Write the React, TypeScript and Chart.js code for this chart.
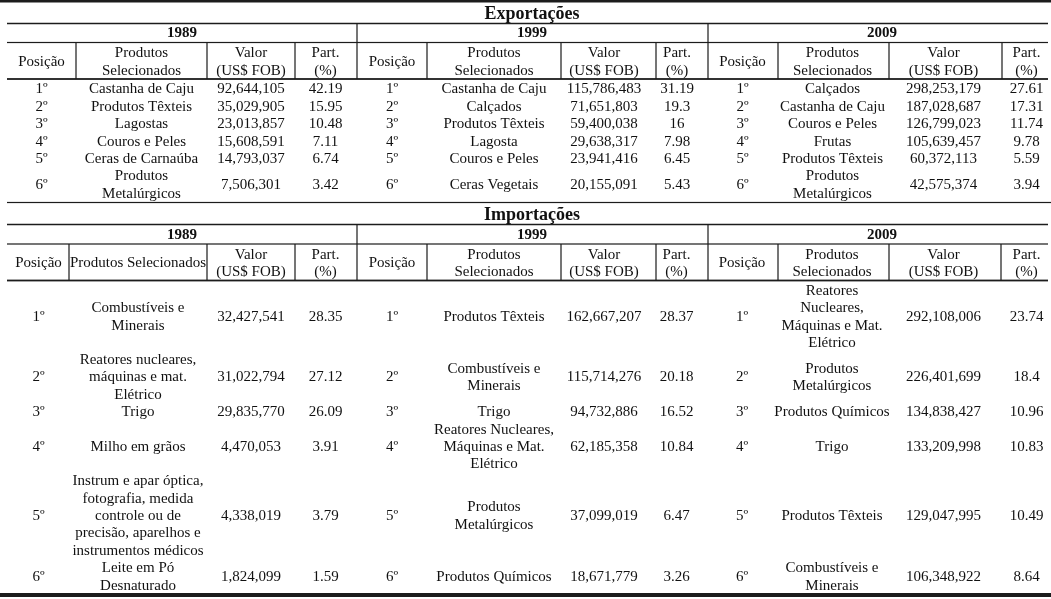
import { useEffect, useRef } from 'react';
import { Chart, registerables } from 'chart.js';

Chart.register(...registerables);

// ---------------- DATA ----------------
const sectionTitles = ['Exportações', 'Importações'];
const years = ['1989', '1999', '2009'];
const positions = ['1º', '2º', '3º', '4º', '5º', '6º'];
const headerLabels = ['Posição', 'Produtos\nSelecionados', 'Valor\n(US$ FOB)', 'Part.\n(%)'];
const headerLabelsImp1989 = ['Posição', 'Produtos Selecionados', 'Valor\n(US$ FOB)', 'Part.\n(%)'];

const exp1989Products = ['Castanha de Caju', 'Produtos Têxteis', 'Lagostas', 'Couros e Peles', 'Ceras de Carnaúba', 'Produtos\nMetalúrgicos'];
const exp1989Values = [92644105, 35029905, 23013857, 15608591, 14793037, 7506301];
const exp1989Shares = [42.19, 15.95, 10.48, 7.11, 6.74, 3.42];

const exp1999Products = ['Castanha de Caju', 'Calçados', 'Produtos Têxteis', 'Lagosta', 'Couros e Peles', 'Ceras Vegetais'];
const exp1999Values = [115786483, 71651803, 59400038, 29638317, 23941416, 20155091];
const exp1999Shares = [31.19, 19.3, 16, 7.98, 6.45, 5.43];

const exp2009Products = ['Calçados', 'Castanha de Caju', 'Couros e Peles', 'Frutas', 'Produtos Têxteis', 'Produtos\nMetalúrgicos'];
const exp2009Values = [298253179, 187028687, 126799023, 105639457, 60372113, 42575374];
const exp2009Shares = [27.61, 17.31, 11.74, 9.78, 5.59, 3.94];

const imp1989Products = [
  'Combustíveis e\nMinerais',
  'Reatores nucleares,\nmáquinas e mat.\nElétrico',
  'Trigo',
  'Milho em grãos',
  'Instrum e apar óptica,\nfotografia, medida\ncontrole ou de\nprecisão, aparelhos e\ninstrumentos médicos',
  'Leite em Pó\nDesnaturado',
];
const imp1989Values = [32427541, 31022794, 29835770, 4470053, 4338019, 1824099];
const imp1989Shares = [28.35, 27.12, 26.09, 3.91, 3.79, 1.59];

const imp1999Products = ['Produtos Têxteis', 'Combustíveis e\nMinerais', 'Trigo', 'Reatores Nucleares,\nMáquinas e Mat.\nElétrico', 'Produtos\nMetalúrgicos', 'Produtos Químicos'];
const imp1999Values = [162667207, 115714276, 94732886, 62185358, 37099019, 18671779];
const imp1999Shares = [28.37, 20.18, 16.52, 10.84, 6.47, 3.26];

const imp2009Products = ['Reatores\nNucleares,\nMáquinas e Mat.\nElétrico', 'Produtos\nMetalúrgicos', 'Produtos Químicos', 'Trigo', 'Produtos Têxteis', 'Combustíveis e\nMinerais'];
const imp2009Values = [292108006, 226401699, 134838427, 133209998, 129047995, 106348922];
const imp2009Shares = [23.74, 18.4, 10.96, 10.83, 10.49, 8.64];

// ---------------- LAYOUT (in scale units) ----------------
const W = 1051;
const H = 599;
const FONT = '"Liberation Serif", "Times New Roman", serif';
const INK = '#111111';
const RULE = '#1c1c1c';
const LH = 17.3;

const layout = [
  {
    titleY: 14,
    yearTop: 23.5, yearY: 33, yearBottom: 42.5, headerY: 62, headerBottom: 79, bottom: 202.5,
    rowY: [89, 107, 124.5, 142, 159.5, 185],
    vlines: [76, 207, 295, 357, 427, 561, 656, 708, 778, 889, 1002],
    cols: [[41.5, 141.5, 251, 325.5], [392, 494, 604, 677], [742.5, 832.5, 943.5, 1026.5]],
  },
  {
    titleY: 215,
    yearTop: 224.5, yearY: 235, yearBottom: 244, headerY: 263.5, headerBottom: 280.5, bottom: -1,
    rowY: [317, 377.5, 412, 447, 516, 577],
    vlines: [69, 207, 295, 357, 427, 561, 656, 708, 778, 889, 1001],
    cols: [[38.5, 138, 251, 325.5], [392, 494, 604, 676.5], [742, 832, 943.5, 1026.5]],
  },
];
const yearCenters = [182, 532, 882];
const sectionSeparators = [357, 708];
const titleX = 532;

const sections = [
  {
    products: [exp1989Products, exp1999Products, exp2009Products],
    values: [exp1989Values, exp1999Values, exp2009Values],
    shares: [exp1989Shares, exp1999Shares, exp2009Shares],
    headers: [headerLabels, headerLabels, headerLabels],
  },
  {
    products: [imp1989Products, imp1999Products, imp2009Products],
    values: [imp1989Values, imp1999Values, imp2009Values],
    shares: [imp1989Shares, imp1999Shares, imp2009Shares],
    headers: [headerLabelsImp1989, headerLabels, headerLabels],
  },
];

const fmtValue = (v: number) => v.toLocaleString('en-US');
const fmtShare = (v: number) => String(v);

const tablePlugin = {
  id: 'tableDraw',
  afterDraw(chart: any) {
    const ctx = chart.ctx as CanvasRenderingContext2D;
    const xs = chart.scales.x;
    const ys = chart.scales.y;
    const X = (v: number) => xs.getPixelForValue(v);
    const Y = (v: number) => ys.getPixelForValue(v);

    ctx.save();
    ctx.fillStyle = '#ffffff';
    ctx.fillRect(0, 0, chart.width, chart.height);

    const hLine = (x1: number, x2: number, y: number, w: number) => {
      ctx.fillStyle = RULE;
      ctx.fillRect(X(x1), Y(y) - w / 2, X(x2) - X(x1), w);
    };
    const vLine = (x: number, y1: number, y2: number, w: number) => {
      ctx.fillStyle = RULE;
      ctx.fillRect(X(x) - w / 2, Y(y1), w, Y(y2) - Y(y1));
    };
    const text = (s: string, x: number, y: number, font: string) => {
      ctx.font = font;
      ctx.fillStyle = INK;
      ctx.textAlign = 'center';
      ctx.textBaseline = 'middle';
      const lines = s.split('\n');
      const n = lines.length;
      lines.forEach((ln, i) => {
        ctx.fillText(ln, X(x), Y(y + (i - (n - 1) / 2) * LH));
      });
    };

    // outer thick rules
    hLine(0, W, 1, 3);
    hLine(0, W, 595, 4);

    layout.forEach((L, si) => {
      const S = sections[si];
      text(sectionTitles[si], titleX, L.titleY, `bold 18px ${FONT}`);
      hLine(7, 1048, L.yearTop, 1.5);
      hLine(7, 1048, L.yearBottom, 1.2);
      hLine(7, 1048, L.headerBottom, 1.8);
      if (L.bottom > 0) hLine(7, W, L.bottom, 1.2);
      sectionSeparators.forEach((x) => vLine(x, L.yearTop, L.yearBottom, 1.2));
      L.vlines.forEach((x) => vLine(x, L.yearBottom, L.headerBottom, 1.2));

      years.forEach((yr, yi) => {
        text(yr, yearCenters[yi], L.yearY, `bold 15px ${FONT}`);
        const cols = L.cols[yi];
        S.headers[yi].forEach((h, ci) => text(h, cols[ci], L.headerY, `15px ${FONT}`));
        positions.forEach((p, ri) => {
          const ry = L.rowY[ri];
          text(p, cols[0], ry, `15px ${FONT}`);
          text(S.products[yi][ri], cols[1], ry, `15px ${FONT}`);
          text(fmtValue(S.values[yi][ri]), cols[2], ry, `15px ${FONT}`);
          text(fmtShare(S.shares[yi][ri]), cols[3], ry, `15px ${FONT}`);
        });
      });
    });
    ctx.restore();
  },
};

export default function App() {
  const ref = useRef<HTMLCanvasElement | null>(null);
  useEffect(() => {
    if (!ref.current) return;
    const chart = new Chart(ref.current, {
      type: 'scatter',
      data: { datasets: [] },
      options: {
        animation: false,
        responsive: false,
        maintainAspectRatio: false,
        devicePixelRatio: 1,
        layout: { padding: 0 },
        events: [],
        plugins: { legend: { display: false }, tooltip: { enabled: false }, title: { display: false } },
        scales: {
          x: { type: 'linear', min: 0, max: W, display: false },
          y: { type: 'linear', min: 0, max: H, reverse: true, display: false },
        },
      },
      plugins: [tablePlugin],
    });
    return () => chart.destroy();
  }, []);
  return (
    <div style={{ position: 'fixed', left: 0, top: 0, width: W, height: H, background: '#fff' }}>
      <canvas ref={ref} width={W} height={H} style={{ display: 'block', width: W, height: H }} />
    </div>
  );
}
